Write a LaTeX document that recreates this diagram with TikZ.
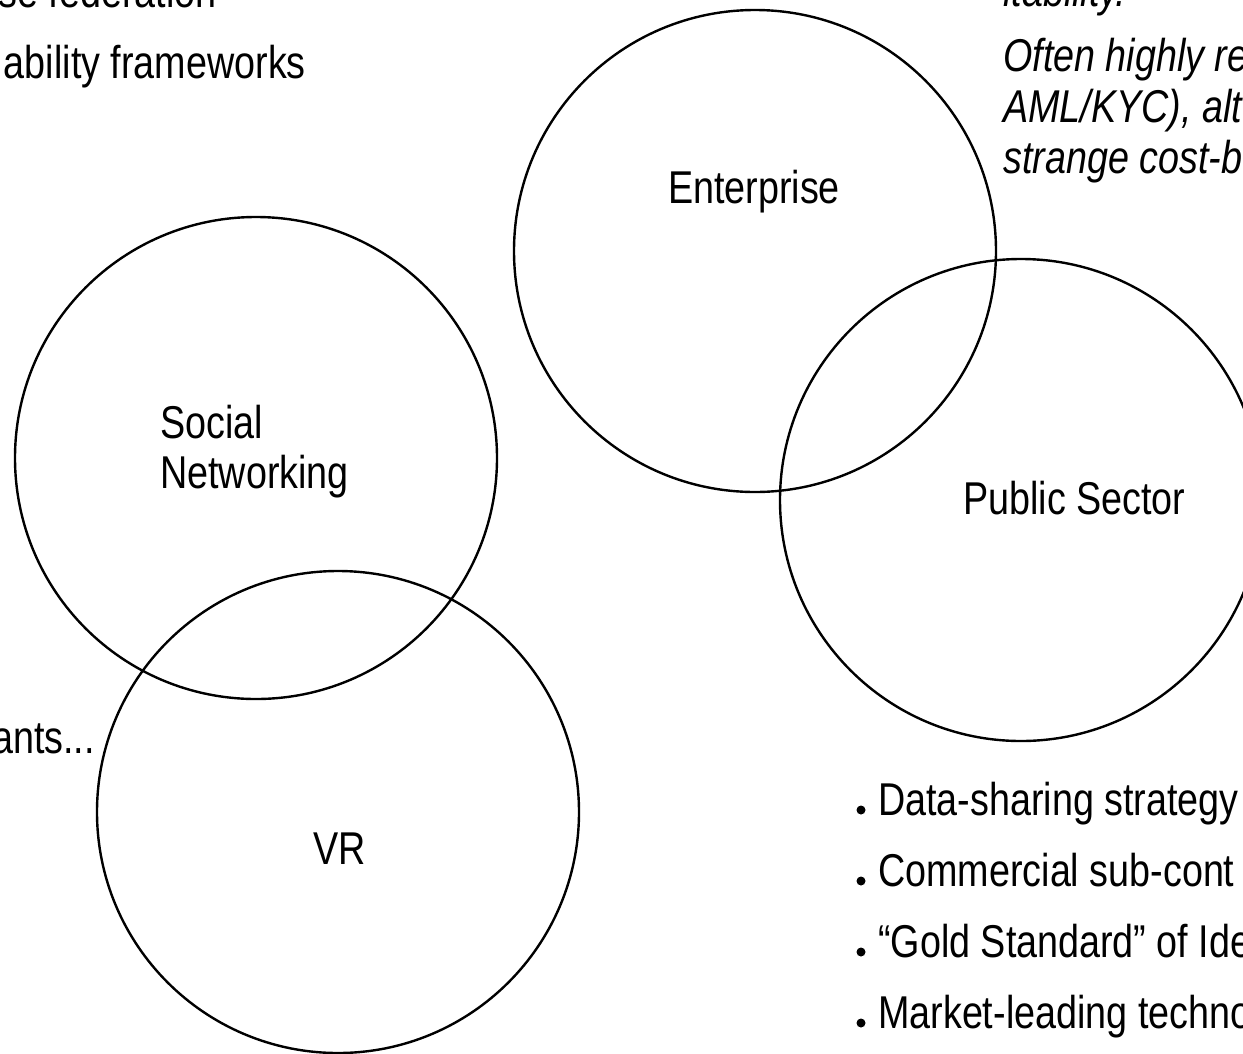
\documentclass[tikz,border=0pt]{standalone}
\usepackage{fontspec}
\setmainfont{Liberation Sans}[FakeStretch=0.82]
\begin{document}
\begin{tikzpicture}[x=1pt,y=-1pt,
  venn/.style={circle,draw=black,line width=2.4pt,inner sep=0pt,minimum size=482pt},
  txt/.style={inner sep=0pt,font=\fontsize{46}{51}\selectfont},
  itxt/.style={inner sep=0pt,font=\fontsize{46}{51}\selectfont\itshape},
  bul/.style={circle,fill=black,inner sep=0pt,minimum size=9pt}]
\useasboundingbox (0,0) rectangle (1243,1053);
\clip (0,0) rectangle (1243,1053);
\fill[white] (0,0) rectangle (1243,1053);
% circles
\node[venn] (ent) at (755,251) {};
\node[venn] (pub) at (1021,500) {};
\node[venn] (soc) at (256,458) {};
\node[venn] (vr)  at (338,812) {};
% circle labels
\node[txt,anchor=base] (entl) at (754,203) {Enterprise};
\node[txt,anchor=base west] (socl1) at (160,438) {Social};
\node[txt,anchor=base west] (socl2) at (160,488) {Networking};
\node[txt,anchor=base west] (publ) at (963,514) {Public Sector};
\node[txt,anchor=base west] (vrl) at (313,864) {VR};
% top-left
\node[txt,anchor=base east] (tl1) at (217,7) {se federation};
\node[txt,anchor=base east] (tl2) at (306,78) {ability frameworks};
\node[txt,anchor=base east] (ml1) at (95,753) {ants...};
% top-right
\node[itxt,anchor=base west] (tr0) at (1003,6) {itability.};
\node[itxt,anchor=base west] (tr1) at (1003,71) {Often highly re};
\node[itxt,anchor=base west] (tr2) at (1003,122) {AML/KYC), alt};
\node[itxt,anchor=base west] (tr3) at (1003,173) {strange cost-b};
% bullets bottom-right
\node[bul] (b1) at (861,810) {};
\node[txt,anchor=base west] (bt1) at (878,815) {Data-sharing strategy};
\node[bul] (b2) at (861,881) {};
\node[txt,anchor=base west] (bt2) at (878,886) {Commercial sub-cont};
\node[bul] (b3) at (861,952) {};
\node[txt,anchor=base west] (bt3) at (878,957) {“Gold Standard” of Ide};
\node[bul] (b4) at (861,1023) {};
\node[txt,anchor=base west] (bt4) at (878,1028) {Market-leading techno};
\end{tikzpicture}
\end{document}
